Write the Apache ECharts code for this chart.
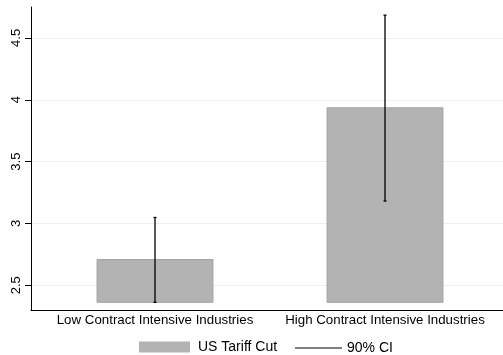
<!DOCTYPE html>
<html>
<head>
<meta charset="utf-8">
<script src="https://cdn.jsdelivr.net/npm/echarts@6/dist/echarts.min.js"></script>
<style>
  html, body { margin: 0; padding: 0; background: #fff; }
  #chart { width: 503px; height: 355px; }
</style>
</head>
<body>
<div id="chart"></div>
<script>
// Industry groups on the horizontal axis
const categories = ['Low Contract Intensive Industries', 'High Contract Intensive Industries'];
// Estimated effect of the US tariff cut (bar heights)
const tariffCut = [2.708, 3.935];
// 90% confidence interval bounds
const ciLower = [2.362, 3.181];
const ciUpper = [3.048, 4.684];
// Bars are drawn up from this base value
const barBase = 2.362;
// Value axis range and tick values
const yMin = 2.3;
const yMax = 4.75;
const yTicks = [2.5, 3, 3.5, 4, 4.5];

const FONT = 'Liberation Sans, Arial, Helvetica, sans-serif';
const BAR_FILL = '#b3b3b3';
const BAR_EDGE = '#a3a3a3';
const GRID_COLOR = '#eaf1f1';

const chart = echarts.init(document.getElementById('chart'), null, { renderer: 'canvas' });

const barData = categories.map((c, i) => [i, barBase, tariffCut[i]]);
const ciData = categories.map((c, i) => [i, ciLower[i], ciUpper[i]]);

const option = {
  animation: false,
  backgroundColor: '#ffffff',
  textStyle: { fontFamily: FONT },
  grid: [
    // frame: value axis, gridlines and the base line
    { left: 31, right: 0, top: 7, bottom: 45, containLabel: false },
    // plotting area for the two industry groups
    { left: 40, right: 3, top: 7, bottom: 45, containLabel: false }
  ],
  xAxis: [
    {
      gridIndex: 0, type: 'value', min: 0, max: 1,
      axisLine: { show: true, lineStyle: { color: '#000', width: 1 } },
      axisTick: { show: false }, axisLabel: { show: false }, splitLine: { show: false }
    },
    {
      gridIndex: 1, type: 'category', data: categories,
      axisLine: { show: false }, axisTick: { show: false }, splitLine: { show: false },
      axisLabel: { color: '#000', fontSize: 13.3, fontFamily: FONT, margin: 4, interval: 0 }
    }
  ],
  yAxis: [
    {
      gridIndex: 0, type: 'value', min: yMin, max: yMax,
      axisLine: { show: true, lineStyle: { color: '#000', width: 1 } },
      axisTick: {
        show: true, length: 6, lineStyle: { color: '#000' },
        customValues: yTicks
      },
      axisLabel: {
        color: '#000', fontSize: 13, fontFamily: FONT, rotate: 90, margin: 8,
        customValues: yTicks,
        formatter: v => String(v)
      },
      splitLine: { show: true, lineStyle: { color: GRID_COLOR, width: 1 } }
    },
    {
      gridIndex: 1, type: 'value', min: yMin, max: yMax, show: false,
      splitLine: { show: false }
    }
  ],
  legend: [
    {
      data: [{ name: 'US Tariff Cut', icon: 'rect' }],
      left: 139, top: 340, padding: 0,
      itemWidth: 51, itemHeight: 11,
      textStyle: { color: '#000', fontSize: 14, fontFamily: FONT, padding: [0, 0, 0, 3] },
      selectedMode: false
    },
    {
      data: [{ name: '90% CI', icon: 'rect' }],
      left: 295, top: 341, padding: 0,
      itemWidth: 47, itemHeight: 1,
      textStyle: { color: '#000', fontSize: 14, fontFamily: FONT },
      selectedMode: false
    }
  ],
  series: [
    {
      name: 'US Tariff Cut',
      type: 'custom',
      xAxisIndex: 1, yAxisIndex: 1,
      itemStyle: { color: BAR_FILL, borderColor: BAR_EDGE },
      encode: { x: 0, y: [1, 2] },
      data: barData,
      renderItem: function (params, api) {
        const idx = api.value(0);
        const bottom = api.coord([idx, api.value(1)]);
        const top = api.coord([idx, api.value(2)]);
        const w = api.size([1, 0])[0] * 0.504;
        return {
          type: 'rect',
          shape: { x: bottom[0] - w / 2, y: top[1], width: w, height: bottom[1] - top[1] },
          style: { fill: BAR_FILL, stroke: BAR_EDGE, lineWidth: 1 }
        };
      }
    },
    {
      name: '90% CI',
      type: 'custom',
      xAxisIndex: 1, yAxisIndex: 1,
      itemStyle: { color: '#000' },
      encode: { x: 0, y: [1, 2] },
      data: ciData,
      z: 3,
      renderItem: function (params, api) {
        const idx = api.value(0);
        const lo = api.coord([idx, api.value(1)]);
        const hi = api.coord([idx, api.value(2)]);
        const cap = 1.5;
        const st = { stroke: '#000', lineWidth: 1.3 };
        return {
          type: 'group',
          children: [
            { type: 'line', shape: { x1: lo[0], y1: lo[1], x2: hi[0], y2: hi[1] }, style: st },
            { type: 'line', shape: { x1: hi[0] - cap, y1: hi[1], x2: hi[0] + cap, y2: hi[1] }, style: st },
            { type: 'line', shape: { x1: lo[0] - cap, y1: lo[1], x2: lo[0] + cap, y2: lo[1] }, style: st }
          ]
        };
      }
    }
  ]
};

chart.setOption(option);
</script>
</body>
</html>
